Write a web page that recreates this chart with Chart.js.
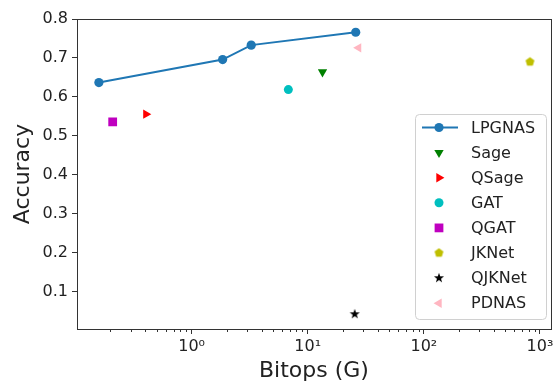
<!DOCTYPE html>
<html>
<head>
<meta charset="utf-8">
<script src="https://cdn.jsdelivr.net/npm/chart.js@4.4.1/dist/chart.umd.min.js"></script>
<style>
  html, body { margin: 0; padding: 0; background: #fff; }
  #wrap { width: 557px; height: 384px; }
</style>
</head>
<body>
<div id="wrap"><canvas id="accChart" width="557" height="384"></canvas></div>
<script>
// data
const lpgnasBitops = [0.159, 1.85, 3.26, 25.9];
const lpgnasAcc = [0.637, 0.696, 0.733, 0.766];

const baseNames = ["Sage", "QSage", "GAT", "QGAT", "JKNet", "QJKNet", "PDNAS"];
const baseBitops = [13.4, 0.404, 6.81, 0.209, 820, 25.4, 27.4];
const baseAcc = [0.664, 0.556, 0.619, 0.536, 0.69, 0.043, 0.726];

const xTickValues = [0.2, 0.3, 0.4, 0.5, 0.6, 0.7, 0.8, 0.9, 1, 2, 3, 4, 5, 6, 7, 8, 9,
  10, 20, 30, 40, 50, 60, 70, 80, 90, 100, 200, 300, 400, 500, 600, 700, 800, 900, 1000];
const yTickValues = [0.1, 0.2, 0.3, 0.4, 0.5, 0.6, 0.7, 0.8];

const FONT = "'DejaVu Sans', sans-serif";
const sup = { "0": "\u2070", "1": "\u00b9", "2": "\u00b2", "3": "\u00b3" };

function isPow10(v) {
  const l = Math.log10(v);
  return Math.abs(l - Math.round(l)) < 1e-9;
}

// marker pictures for styles Chart.js lacks
function polyMarker(size, color, pts) {
  const c = document.createElement("canvas");
  c.width = size; c.height = size;
  const g = c.getContext("2d");
  g.fillStyle = color;
  g.beginPath();
  pts.forEach((p, i) => {
    const px = size / 2 + p[0], py = size / 2 + p[1];
    if (i === 0) g.moveTo(px, py); else g.lineTo(px, py);
  });
  g.closePath();
  g.fill();
  return c;
}
function pentagon(size, r, color) {
  const pts = [];
  for (let i = 0; i < 5; i++) {
    const a = -Math.PI / 2 + i * 2 * Math.PI / 5;
    pts.push([r * Math.cos(a), r * Math.sin(a)]);
  }
  return polyMarker(size, color, pts);
}
function star(size, r, color) {
  const pts = [];
  for (let i = 0; i < 10; i++) {
    const a = -Math.PI / 2 + i * Math.PI / 5;
    const rr = i % 2 === 0 ? r : r * 0.4;
    pts.push([rr * Math.cos(a), rr * Math.sin(a)]);
  }
  return polyMarker(size, color, pts);
}

const baseStyles = [
  { color: "#008000", pointStyle: "triangle", rotation: 180, radius: 5.4 },
  { color: "#ff0000", pointStyle: "triangle", rotation: 90, radius: 5.4 },
  { color: "#00bfbf", pointStyle: "circle", rotation: 0, radius: 4.5 },
  { color: "#bf00bf", pointStyle: "rect", rotation: 0, radius: 6.2 },
  { color: "#bfbf00", pointStyle: pentagon(11, 4.7, "#bfbf00"), rotation: 0, radius: 5 },
  { color: "#000000", pointStyle: star(12, 5.3, "#000000"), rotation: 0, radius: 5 },
  { color: "#ffb6c1", pointStyle: "triangle", rotation: 270, radius: 5.4 },
];

const datasets = [{
  label: "LPGNAS",
  data: lpgnasBitops.map((x, i) => ({ x: x, y: lpgnasAcc[i] })),
  showLine: true,
  borderColor: "#1f77b4",
  backgroundColor: "#1f77b4",
  borderWidth: 2,
  pointRadius: 4.6,
  pointHoverRadius: 4.6,
  pointBorderWidth: 0,
  pointStyle: "circle",
}];
baseNames.forEach((name, i) => {
  const s = baseStyles[i];
  datasets.push({
    label: name,
    data: [{ x: baseBitops[i], y: baseAcc[i] }],
    showLine: false,
    borderColor: s.color,
    backgroundColor: s.color,
    pointStyle: s.pointStyle,
    pointRotation: s.rotation,
    pointRadius: s.radius,
    pointHoverRadius: s.radius,
    pointBorderWidth: 0,
  });
});

// box, minor ticks and legend drawn on top
const framePlugin = {
  id: "frame",
  afterDraw(chart) {
    const g = chart.ctx;
    const a = chart.chartArea;
    const xs = chart.scales.x;
    g.save();
    g.strokeStyle = "#333";
    g.lineWidth = 1;
    xs.ticks.forEach((t) => {
      if (isPow10(t.value)) return;
      const px = Math.round(xs.getPixelForValue(t.value)) + 0.5;
      g.beginPath();
      g.moveTo(px, a.bottom);
      g.lineTo(px, a.bottom + 3);
      g.stroke();
    });
    g.strokeRect(Math.round(a.left) + 0.5, Math.round(a.top) + 0.5,
      Math.round(a.right - a.left), Math.round(a.bottom - a.top));

    // legend
    const bx = 415, by = 114, bw = 131, bh = 205;
    g.fillStyle = "rgba(255,255,255,0.85)";
    g.strokeStyle = "#d0d0d0";
    g.beginPath();
    g.roundRect(bx + 0.5, by + 0.5, bw, bh, 4);
    g.fill();
    g.stroke();
    g.font = "16px " + FONT;
    g.textBaseline = "middle";
    g.textAlign = "left";
    chart.data.datasets.forEach((ds, i) => {
      const cy = 127.5 + i * 25.1;
      const mx = 439;
      if (ds.showLine) {
        g.strokeStyle = ds.borderColor;
        g.lineWidth = 2;
        g.beginPath();
        g.moveTo(422, cy);
        g.lineTo(458, cy);
        g.stroke();
      }
      g.fillStyle = ds.backgroundColor;
      g.strokeStyle = ds.borderColor;
      Chart.helpers.drawPoint(g, {
        pointStyle: ds.pointStyle,
        rotation: ds.pointRotation || 0,
        radius: ds.pointRadius,
        borderWidth: 0,
      }, mx, cy);
      g.fillStyle = "#222";
      g.fillText(ds.label, 471, cy + 1);
    });
    g.restore();
  },
};

Chart.defaults.font.family = FONT;
Chart.defaults.color = "#222";

new Chart(document.getElementById("accChart"), {
  type: "scatter",
  data: { datasets: datasets },
  options: {
    responsive: false,
    animation: false,
    events: [],
    layout: { padding: { top: 19, right: 3, left: 0, bottom: 0 } },
    plugins: { legend: { display: false }, tooltip: { enabled: false } },
    scales: {
      x: {
        type: "logarithmic",
        min: 0.103,
        max: 1240,
        afterBuildTicks: (scale) => { scale.ticks = xTickValues.map((v) => ({ value: v })); },
        afterFit: (scale) => { scale.height = 55; },
        grid: {
          drawOnChartArea: false,
          tickLength: 5,
          tickColor: (c) => (c.tick && isPow10(c.tick.value) ? "#333" : "rgba(0,0,0,0)"),
        },
        border: { display: false },
        ticks: {
          autoSkip: false,
          maxRotation: 0,
          padding: 3,
          font: { size: 16 },
          callback: (v) => (isPow10(v) ? "10" + sup[String(Math.round(Math.log10(v)))] : ""),
        },
        title: { display: true, text: "Bitops (G)", font: { size: 22 }, padding: { top: 0, bottom: 0 } },
      },
      y: {
        min: 0.005,
        max: 0.8,
        afterBuildTicks: (scale) => { scale.ticks = yTickValues.map((v) => ({ value: v })); },
        afterFit: (scale) => { scale.width = 77; },
        grid: { drawOnChartArea: false, tickLength: 5, tickColor: "#333" },
        border: { display: false },
        ticks: {
          padding: 4,
          font: { size: 16 },
          callback: (v) => v.toFixed(1),
        },
        title: { display: true, text: "Accuracy", font: { size: 22 }, padding: { top: 10, bottom: 0 } },
      },
    },
  },
  plugins: [framePlugin],
});
</script>
</body>
</html>
